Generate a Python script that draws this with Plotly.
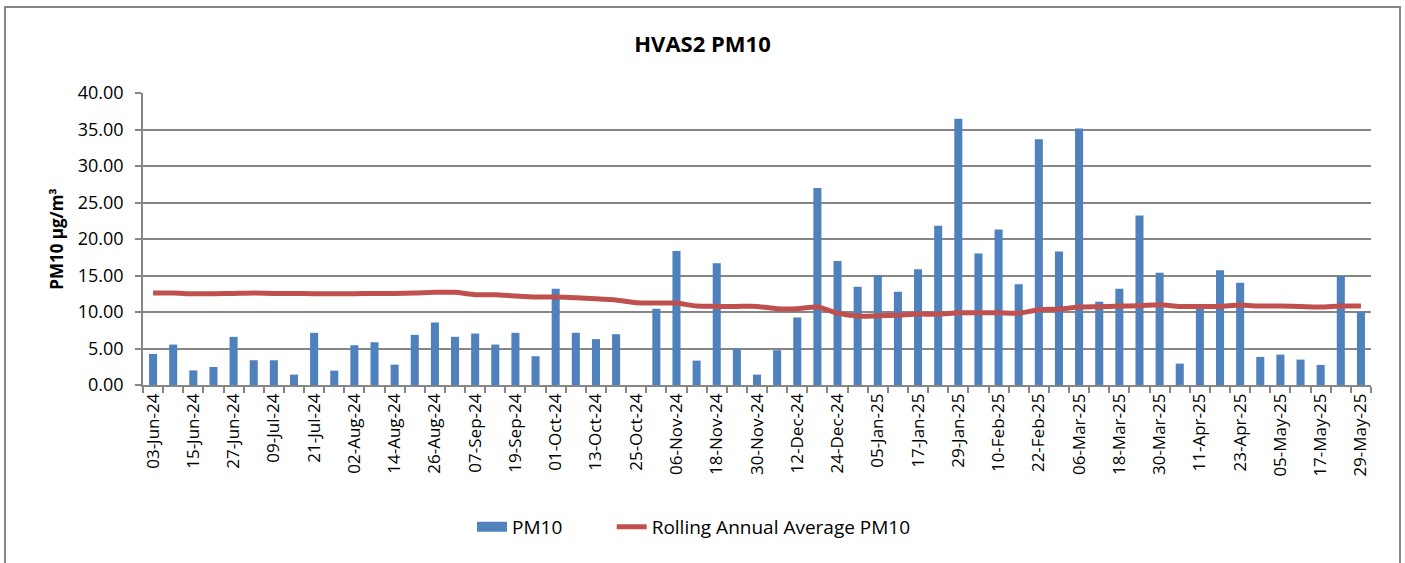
import pandas as pd
import plotly.graph_objects as go

# Sampling dates (every 6 days)
dates = pd.date_range("2024-06-03", "2025-05-29", freq="6D")

pm10 = [4.26, 5.54, 2.00, 2.47, 6.60, 3.39, 3.39, 1.42, 7.15, 1.97,
        5.45, 5.86, 2.79, 6.87, 8.57, 6.60, 7.05, 5.54, 7.15, 3.94,
        13.19, 7.15, 6.28, 6.96, None, 10.44, 18.37, 3.34, 16.67, 4.90,
        1.42, 4.76, 9.25, 26.98, 17.00, 13.47, 15.07, 12.78, 15.85, 21.80,
        36.46, 18.00, 21.30, 13.79, 33.67, 18.28, 35.13, 11.41, 13.19, 23.22,
        15.39, 2.93, 10.67, 15.71, 14.02, 3.85, 4.17, 3.48, 2.75, 14.93,
        10.03]

rolling = [12.60, 12.60, 12.50, 12.50, 12.55, 12.60, 12.55, 12.55, 12.50, 12.50,
           12.50, 12.55, 12.55, 12.60, 12.70, 12.70, 12.37, 12.37, 12.19, 12.05,
           12.05, 11.96, 11.82, 11.64, 11.27, 11.22, 11.22, 10.81, 10.77, 10.77,
           10.77, 10.44, 10.44, 10.67, 9.85, 9.44, 9.48, 9.57, 9.71, 9.71,
           9.90, 9.90, 9.90, 9.85, 10.30, 10.40, 10.67, 10.72, 10.81, 10.86,
           10.99, 10.77, 10.77, 10.77, 10.95, 10.81, 10.81, 10.77, 10.67, 10.81,
           10.81]

y_ticks = [0, 5, 10, 15, 20, 25, 30, 35, 40]

FONT = "Open Sans"
BLUE = "#4F81BD"
RED = "#C0504D"
GRID = "#868686"
day_ms = 24 * 3600 * 1000
PAD = "\u00a0" * 9

fig = go.Figure()
fig.add_trace(go.Bar(
    x=dates, y=pm10, name="PM10", showlegend=False,
    marker=dict(color=BLUE, line=dict(width=0)),
    width=6 * day_ms * 0.4,
))
# legend-only swatch for the bars (wide block, as in the original)
fig.add_trace(go.Scatter(
    x=[None], y=[None], name="PM10" + PAD, mode="lines",
    line=dict(color=BLUE, width=13), hoverinfo="skip",
))
fig.add_trace(go.Scatter(
    x=dates, y=rolling, name="Rolling Annual Average PM10",
    mode="lines", line=dict(color=RED, width=5, shape="spline", smoothing=0.6),
))

tickvals = list(dates[::2])
fig.update_xaxes(
    range=[dates[0] - pd.Timedelta(days=3), dates[-1] + pd.Timedelta(days=3)],
    tickvals=tickvals,
    tickformat="%d-%b-%y",
    tickangle=-90,
    ticks="",
    showgrid=False,
    showline=True, linecolor=GRID, linewidth=1.5,
    tickfont=dict(family=FONT, size=17, color="#000000"),
    minor=dict(ticks="outside", ticklen=6, tickcolor=GRID, tickwidth=1.5,
               dtick=6 * day_ms, tick0=dates[0] - pd.Timedelta(days=3), showgrid=False),
)
fig.update_yaxes(
    range=[0, 40],
    tickvals=y_ticks,
    tickformat=".2f",
    ticks="outside", ticklen=6, tickcolor=GRID, tickwidth=1.5,
    ticklabelstandoff=8,
    showgrid=True, gridcolor=GRID, gridwidth=1.5,
    showline=True, linecolor=GRID, linewidth=1.5,
    zeroline=False,
    tickfont=dict(family=FONT, size=18, color="#000000"),
    title=dict(text="<b>PM10 µg/m³</b>", font=dict(family=FONT, size=17, color="#000000"),
               standoff=10),
)

fig.update_layout(
    width=1405, height=563,
    margin=dict(l=143, r=34, t=93, b=178),
    paper_bgcolor="white", plot_bgcolor="white",
    title=dict(text="<b>HVAS2 PM10</b>", x=0.5, xref="container", xanchor="center",
               y=1 - 44 / 563, yanchor="middle",
               font=dict(family=FONT, size=22, color="#000000")),
    showlegend=True,
    legend=dict(orientation="h", x=(472 - 143) / 1228, xanchor="left",
                y=-0.486, yanchor="middle",
                font=dict(family=FONT, size=19, color="#000000"),
                tracegroupgap=0),
    bargap=0.6,
    shapes=[dict(type="rect", xref="paper", yref="paper",
                 x0=(5 - 143) / 1228, x1=(1400 - 143) / 1228,
                 y0=(385 - 600) / 292, y1=(385 - 7) / 292,
                 line=dict(color=GRID, width=2), fillcolor="rgba(0,0,0,0)",
                 layer="below")],
)

fig.write_html("out.html", config={"displayModeBar": False},
               post_script="document.body.style.margin='0';")
